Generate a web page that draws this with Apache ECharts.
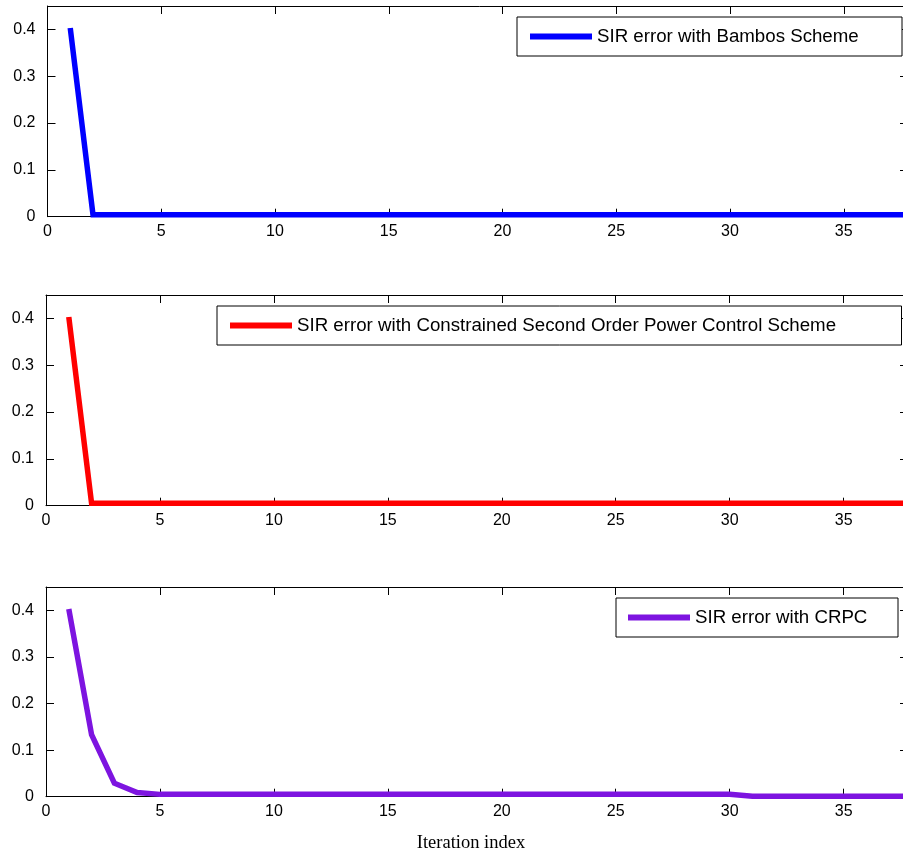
<!DOCTYPE html>
<html>
<head>
<meta charset="utf-8">
<script src="https://cdn.jsdelivr.net/npm/echarts@6/dist/echarts.min.js"></script>
<style>
html,body{margin:0;padding:0;background:#fff;overflow:hidden;width:903px;height:852px;}
#chart{width:912px;height:852px;}
</style>
</head>
<body>
<div id="chart"></div>
<script>
// ---- data ----
const iterations = [1,2,3,4,5,6,7,8,9,10,11,12,13,14,15,16,17,18,19,20,21,22,23,24,25,26,27,28,29,30,31,32,33,34,35,36,37,38];
const bambosError = [0.403,0.004,0.004,0.004,0.004,0.004,0.004,0.004,0.004,0.004,0.004,0.004,0.004,0.004,0.004,0.004,0.004,0.004,0.004,0.004,0.004,0.004,0.004,0.004,0.004,0.004,0.004,0.004,0.004,0.004,0.004,0.004,0.004,0.004,0.004,0.004,0.004,0.004];
const secondOrderError = [0.403,0.005,0.005,0.005,0.005,0.005,0.005,0.005,0.005,0.005,0.005,0.005,0.005,0.005,0.005,0.005,0.005,0.005,0.005,0.005,0.005,0.005,0.005,0.005,0.005,0.005,0.005,0.005,0.005,0.005,0.005,0.005,0.005,0.005,0.005,0.005,0.005,0.005];
const crpcError = [0.403,0.133,0.029,0.009,0.005,0.005,0.005,0.005,0.005,0.005,0.005,0.005,0.005,0.005,0.005,0.005,0.005,0.005,0.005,0.005,0.005,0.005,0.005,0.005,0.005,0.005,0.005,0.005,0.005,0.005,0.001,0.001,0.001,0.001,0.001,0.001,0.001,0.001];
const seriesNames = ['SIR error with Bambos Scheme','SIR error with Constrained Second Order Power Control Scheme','SIR error with CRPC'];
const seriesColors = ['#0000FF','#FF0000','#7D14E0'];
const xTickInterval = 5, xMin = 0, xMax = 38;
const yTickInterval = 0.1, yMin = 0, yMax = 0.45;
const xAxisTitle = 'Iteration index';

// ---- layout ----
const SANS = "'Liberation Sans', Arial, sans-serif";
const SERIF = "'Liberation Serif', 'Times New Roman', serif";
const grids = [
  {left: 47.5, top: 6, height: 210.7, right: 0},
  {left: 46, top: 295, height: 210.7, right: 0},
  {left: 46, top: 587, height: 209.7, right: 0}
];
const legendBoxes = [
  {left: 517, top: 17, right: 902, pl: 13},
  {left: 217, top: 306, right: 901.5, pl: 13},
  {left: 616, top: 598, right: 898, pl: 12}
];
const allData = [bambosError, secondOrderError, crpcError];
const legendFont = 18.7;

const cv = document.createElement('canvas').getContext('2d');
cv.font = legendFont + "px " + SANS;

const axisLine = {show: true, onZero: false, lineStyle: {color: '#000', width: 1}};
const tick = {show: true, inside: true, length: 8, lineStyle: {color: '#000', width: 1}};

const xAxes = [], yAxes = [], series = [], legends = [];
grids.forEach((g, i) => {
  xAxes.push({
    gridIndex: i, type: 'value', position: 'bottom', min: xMin, max: xMax, interval: xTickInterval,
    axisLine, axisTick: tick, splitLine: {show: false},
    axisLabel: {show: true, showMaxLabel: false, margin: 7, color: '#000', fontSize: 16, fontFamily: SANS}
  });
  xAxes.push({
    gridIndex: i, type: 'value', position: 'top', min: xMin, max: xMax, interval: xTickInterval,
    axisLine, axisTick: tick, splitLine: {show: false}, axisLabel: {show: false}
  });
  yAxes.push({
    gridIndex: i, type: 'value', position: 'left', min: yMin, max: yMax, interval: yTickInterval,
    axisLine, axisTick: tick, splitLine: {show: false},
    axisLabel: {show: true, showMaxLabel: false, margin: 12, color: '#000', fontSize: 16, fontFamily: SANS}
  });
  yAxes.push({
    gridIndex: i, type: 'value', position: 'right', min: yMin, max: yMax, interval: yTickInterval,
    axisLine, axisTick: {show: true, inside: true, length: 12, lineStyle: {color: '#000', width: 1}},
    splitLine: {show: false}, axisLabel: {show: false}
  });
  series.push({
    name: seriesNames[i], type: 'line', xAxisIndex: 2*i, yAxisIndex: 2*i,
    data: iterations.map((x, k) => [x, allData[i][k]]),
    showSymbol: false, symbol: 'none',
    lineStyle: {color: seriesColors[i], width: 5.5, join: 'miter'},
    itemStyle: {color: seriesColors[i]},
    animation: false
  });
  const b = legendBoxes[i];
  const tw = cv.measureText(seriesNames[i]).width;
  let pr = b.right - (b.left + b.pl + 62 + 5 + tw);
  if (pr < 4) pr = 4;
  legends.push({
    data: [seriesNames[i]], left: b.left, top: b.top,
    icon: 'rect', itemWidth: 62, itemHeight: 6,
    padding: [10, pr, 10, b.pl],
    borderColor: '#000', borderWidth: 1, backgroundColor: '#fff',
    selectedMode: false,
    textStyle: {fontSize: legendFont, fontFamily: SANS, color: '#000'}
  });
});

const chart = echarts.init(document.getElementById('chart'), null, {renderer: 'canvas'});
chart.setOption({
  animation: false,
  backgroundColor: '#fff',
  grid: grids,
  xAxis: xAxes,
  yAxis: yAxes,
  legend: legends,
  series: series,
  graphic: [{
    type: 'text', x: 471, y: 843,
    style: {text: xAxisTitle, fontSize: 18.5, fontFamily: SERIF, fill: '#000', textAlign: 'center', textVerticalAlign: 'middle'}
  }]
});
</script>
</body>
</html>
